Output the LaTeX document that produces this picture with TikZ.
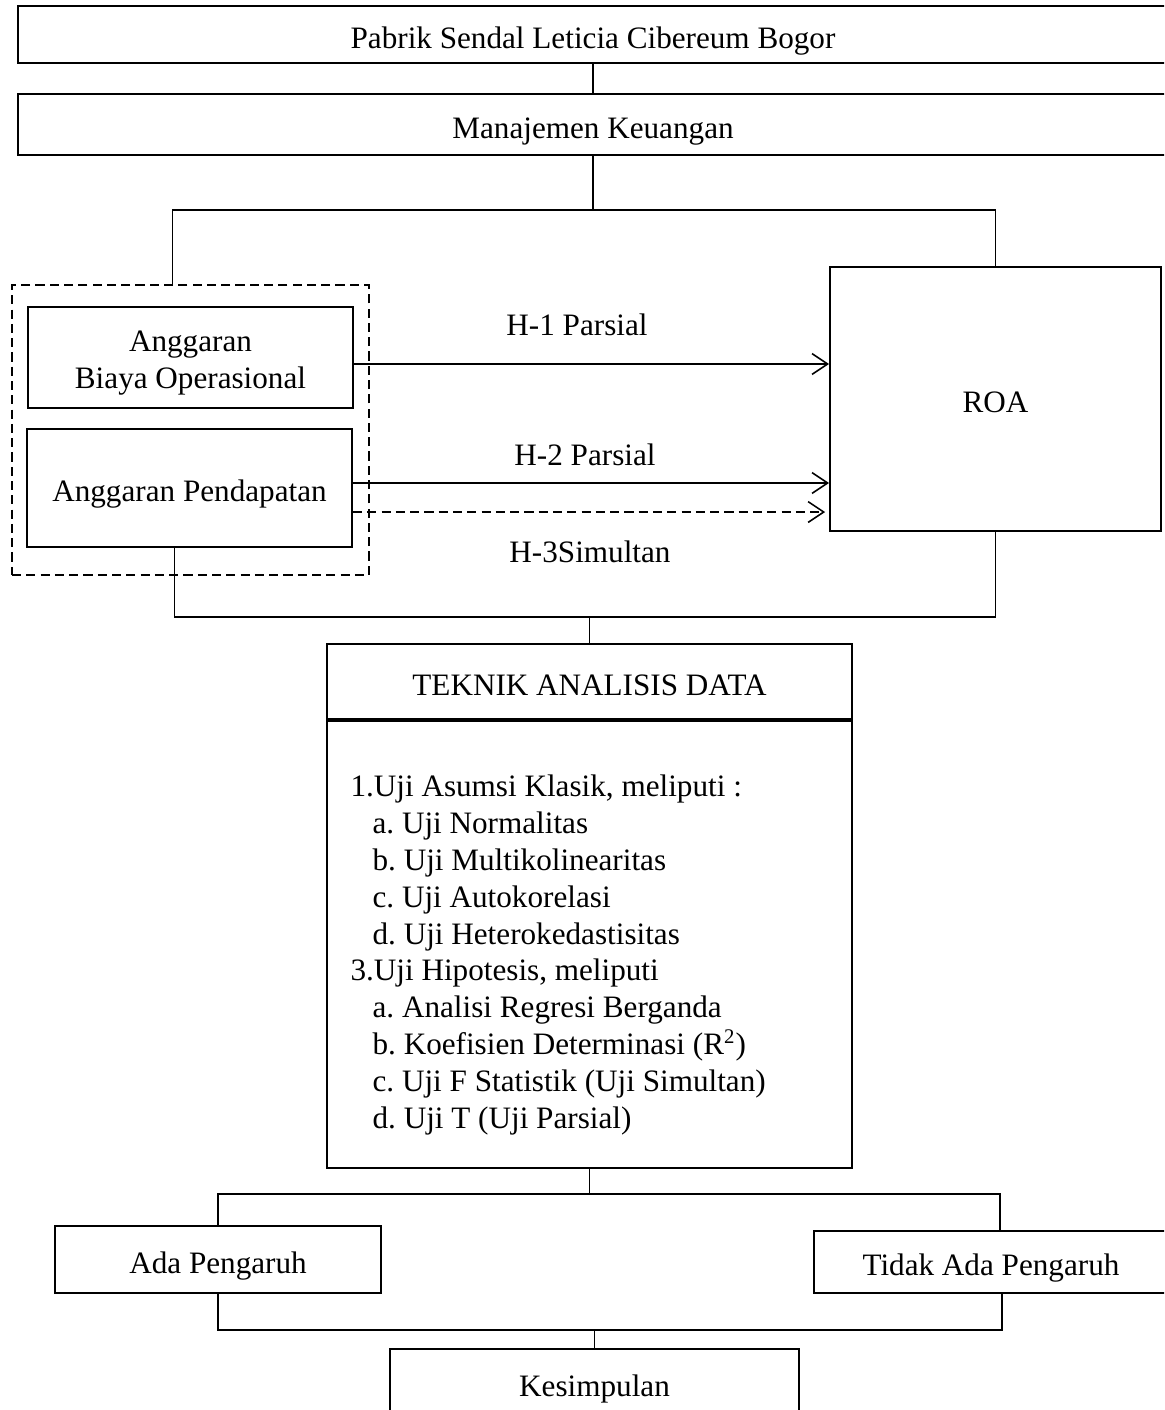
\documentclass[tikz,border=0pt]{standalone}
\usepackage{fontspec}
\setmainfont{Liberation Serif}
\usetikzlibrary{positioning,arrows.meta,calc}
\tikzset{
  kotak/.style={rectangle,draw=black,line width=0.8pt,inner sep=0pt,align=center,
    text height=13.2pt,text depth=2.5pt},
  grup/.style={rectangle,draw=black,line width=0.5pt,dash pattern=on 3.5pt off 2pt},
  garis/.style={line width=0.5pt},
  panah/.style={line width=0.6pt,-{Straight Barb[length=6pt,width=8pt]}},
  teks/.style={inner sep=0pt,align=left},
}

\begin{document}
\begin{tikzpicture}[x=0.385pt,y=-0.385pt,font=\fontsize{12}{14.2}\selectfont]
  \useasboundingbox (0,0) rectangle (1164,1410);
  \clip (0,0) rectangle (1164,1410);
  % objek dan bidang penelitian
  \node[kotak,minimum width=442.8pt,minimum height=21.6pt] (pabrik) at (593,34.5) {Pabrik Sendal Leticia Cibereum Bogor};
  \node[kotak,minimum width=442.8pt,minimum height=23.5pt] (manaj) at (593,124.5) {Manajemen Keuangan};
  \draw[garis] (pabrik) -- (manaj);
  % variabel X (dalam kotak putus-putus) dan variabel Y
  \node[grup,minimum width=137.4pt,minimum height=111.7pt] (kelompok) at (190.5,430) {};
  \node[kotak,text height=26.3pt,text depth=2.5pt,minimum width=125.1pt,minimum height=38.9pt] (abo) at (190.5,357.5) {Anggaran\\Biaya Operasional};
  \node[kotak,minimum width=125.1pt,minimum height=45.4pt] (ap) at (189.5,488) {Anggaran Pendapatan};
  \node[kotak,minimum width=127.4pt,minimum height=101.6pt] (roa) at (995.5,399) {ROA};
  \coordinate (cabang) at (593,210);
  \draw[garis] (manaj.south) -- (cabang);
  \draw[garis] ($(kelompok.north)+(-18,0)$) |- (cabang) -| (roa.north);
  % hipotesis H-1, H-2, H-3
  \coordinate (h1) at ($(abo.east)+(0,6.5)$);
  \coordinate (h2) at ($(ap.east)+(0,-5)$);
  \coordinate (h3) at ($(ap.east)+(0,24)$);
  \draw[panah] (h1) -- (h1 -| roa.west);
  \draw[panah] (h2) -- (h2 -| roa.west);
  \draw[panah,dash pattern=on 3.5pt off 2pt,shorten >=1.5pt] (h3) -- (h3 -| roa.west);
  \node (lh1) at (577,325) {H-1 Parsial};
  \node (lh2) at (585,455) {H-2 Parsial};
  \node (lh3) at (590,552) {H-3Simultan};
  % teknik analisis data
  \node[kotak,minimum width=202.1pt,minimum height=28.9pt] (teknik) at (589.5,681.5) {TEKNIK ANALISIS DATA};
  \node[kotak,minimum width=202.1pt,minimum height=172.1pt,anchor=north] (metode) at (teknik.south) {};
  \node[teks,anchor=west] (daftar) at (350,955) {1.Uji Asumsi Klasik, meliputi :\\
    \hspace*{8.5pt}a.\ Uji Normalitas\\
    \hspace*{8.5pt}b.\ Uji Multikolinearitas\\
    \hspace*{8.5pt}c.\ Uji Autokorelasi\\
    \hspace*{8.5pt}d.\ Uji Heterokedastisitas\\
    3.Uji Hipotesis, meliputi\\
    \hspace*{8.5pt}a.\ Analisi Regresi Berganda\\
    \hspace*{8.5pt}b.\ Koefisien Determinasi (R\textsuperscript{2})\\
    \hspace*{8.5pt}c.\ Uji F Statistik (Uji Simultan)\\
    \hspace*{8.5pt}d.\ Uji T (Uji Parsial)};
  \coordinate (gabung) at (589.5,617);
  \draw[garis] ($(ap.south)+(-15,0)$) |- (gabung) -| (roa.south);
  \draw[garis] (gabung) -- (teknik.north);
  % hasil dan kesimpulan
  \node[kotak,minimum width=125.5pt,minimum height=25.8pt] (ada) at (218,1259.5) {Ada Pengaruh};
  \node[kotak,minimum width=136.3pt,minimum height=23.9pt] (tidak) at (991,1262) {Tidak Ada Pengaruh};
  \node[kotak,minimum width=157.5pt,minimum height=26.2pt] (simpul) at (594.5,1383) {Kesimpulan};
  \coordinate (pisah) at (589.5,1194);
  \draw[garis] (metode.south) -- (pisah);
  \draw[garis] (ada.north) |- (pisah) -| ($(tidak.north)+(9,0)$);
  \coordinate (temu) at (594.5,1330);
  \draw[garis] (ada.south) |- (temu) -| ($(tidak.south)+(11,0)$);
  \draw[garis] (temu) -- (simpul.north);
\end{tikzpicture}
\end{document}
